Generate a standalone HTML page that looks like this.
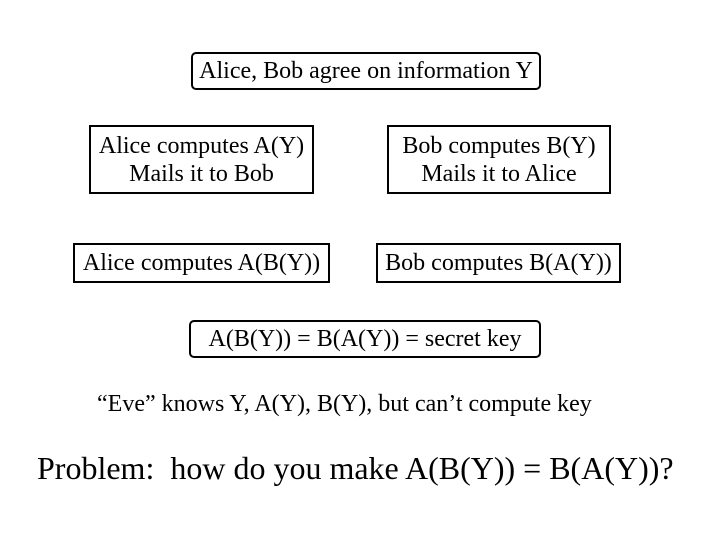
<!DOCTYPE html>
<html><head><style>
body{margin:0;width:720px;height:540px;background:#fff;position:relative;font-family:"Liberation Serif",serif;color:#000;overflow:hidden}
.b{position:absolute;border:2px solid #000;box-sizing:border-box;display:flex;align-items:center;justify-content:center;text-align:center;font-size:24px;line-height:28px;white-space:nowrap}
.r{border-radius:5px}
.t{position:absolute;white-space:nowrap}
</style></head><body>
<div class="b r" style="left:191px;top:52px;width:350px;height:38px">Alice, Bob agree on information Y</div>
<div class="b" style="left:89px;top:125px;width:225px;height:69px">Alice computes A(Y)<br>Mails it to Bob</div>
<div class="b" style="left:387px;top:125px;width:224px;height:69px">Bob computes B(Y)<br>Mails it to Alice</div>
<div class="b" style="left:73px;top:243px;width:257px;height:40px">Alice computes A(B(Y))</div>
<div class="b" style="left:376px;top:243px;width:245px;height:40px">Bob computes B(A(Y))</div>
<div class="b r" style="left:189px;top:320px;width:352px;height:38px">A(B(Y)) = B(A(Y)) = secret key</div>
<div class="t" style="left:97px;top:391px;font-size:24px">“Eve” knows Y, A(Y), B(Y), but can’t compute key</div>
<div class="t" style="left:37px;top:450px;font-size:32px">Problem:&nbsp; how do you make A(B(Y)) = B(A(Y))?</div>
</body></html>
